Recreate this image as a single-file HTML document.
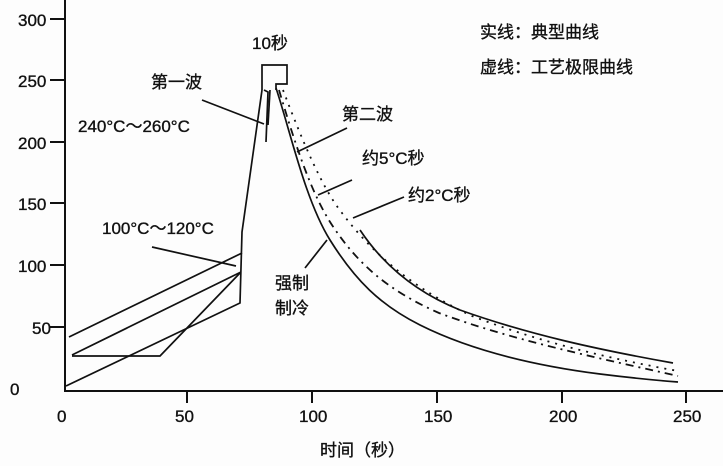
<!DOCTYPE html>
<html><head><meta charset="utf-8"><style>
html,body{margin:0;padding:0;background:#fdfdfd;}
svg{display:block}
text{font-family:"Liberation Sans","Noto Sans CJK SC",sans-serif;font-size:17px;fill:#111;stroke:#111;stroke-width:0.35}
</style></head><body>
<svg width="723" height="466" viewBox="0 0 723 466" xmlns="http://www.w3.org/2000/svg">
<g stroke="#111" stroke-width="2" fill="none">
<line x1="65" y1="0" x2="65" y2="391"/>
<line x1="64" y1="391" x2="723" y2="391"/>
<line x1="50" y1="19" x2="65" y2="19"/>
<line x1="50" y1="80" x2="65" y2="80"/>
<line x1="50" y1="142" x2="65" y2="142"/>
<line x1="50" y1="203" x2="65" y2="203"/>
<line x1="50" y1="265" x2="65" y2="265"/>
<line x1="50" y1="327" x2="65" y2="327"/>
<line x1="187" y1="391" x2="187" y2="403"/>
<line x1="312" y1="391" x2="312" y2="403"/>
<line x1="437" y1="391" x2="437" y2="403"/>
<line x1="562" y1="391" x2="562" y2="403"/>
<line x1="686" y1="391" x2="686" y2="403"/>
</g>
<g stroke="#111" stroke-width="1.7" fill="none">
<line x1="69" y1="337" x2="242" y2="253"/>
<line x1="72" y1="355" x2="241" y2="272"/>
<polyline points="72,356 160,356 240,273"/>
<polyline points="66,386 240,303 242,232 262,90"/>
<line x1="152" y1="247" x2="236" y2="266"/>
<polyline points="262,90 262,65 287,65 287,84 276,84 276,90"/>
<polyline points="264,90 268,92 266,142"/>
<line x1="270" y1="90" x2="268" y2="125"/>
<line x1="202" y1="100" x2="264" y2="124"/>
<path d="M276,88 C290,130 305,200 330,240 C355,280 380,305 420,325 C470,350 530,365 600,374 C640,379 665,381 678,382"/>
<path d="M360,230 C380,260 410,290 460,310 C530,335 600,350 673,363"/>
<line x1="297" y1="152" x2="347" y2="128"/>
<line x1="318" y1="195" x2="352" y2="180"/>
<line x1="353" y1="218" x2="404" y2="197"/>
<line x1="305" y1="268" x2="327" y2="240"/>
</g>
<g stroke="#111" stroke-width="1.8" fill="none">
<path d="M283,90 C302,140 322,188 342,213 C372,253 412,288 472,316 C542,343 612,359 678,371" stroke-dasharray="2,6"/>
<path d="M279,90 C294,140 311,195 334,228 C359,265 389,291 439,313 C509,339 589,356 678,376" stroke-dasharray="8,5,2,5"/>
</g>
<g>
<text x="18" y="26">300</text>
<text x="18" y="87">250</text>
<text x="18" y="149">200</text>
<text x="18" y="210">150</text>
<text x="18" y="272">100</text>
<text x="32" y="334">50</text>
<text x="10" y="395">0</text>
<text x="57" y="422">0</text>
<text x="175" y="422">50</text>
<text x="299" y="422">100</text>
<text x="424" y="422">150</text>
<text x="549" y="422">200</text>
<text x="673" y="422">250</text>
<text x="252" y="49">10秒</text>
<text x="151" y="88">第一波</text>
<text x="78" y="132">240°C～260°C</text>
<text x="102" y="234">100°C～120°C</text>
<text x="342" y="120">第二波</text>
<text x="362" y="164">约5°C秒</text>
<text x="408" y="201">约2°C秒</text>
<text x="275" y="289">强制</text>
<text x="275" y="314">制冷</text>
<text x="480" y="38">实线：典型曲线</text>
<text x="480" y="73">虚线：工艺极限曲线</text>
<text x="320" y="456">时间（秒）</text>
</g>
</svg>
</body></html>
